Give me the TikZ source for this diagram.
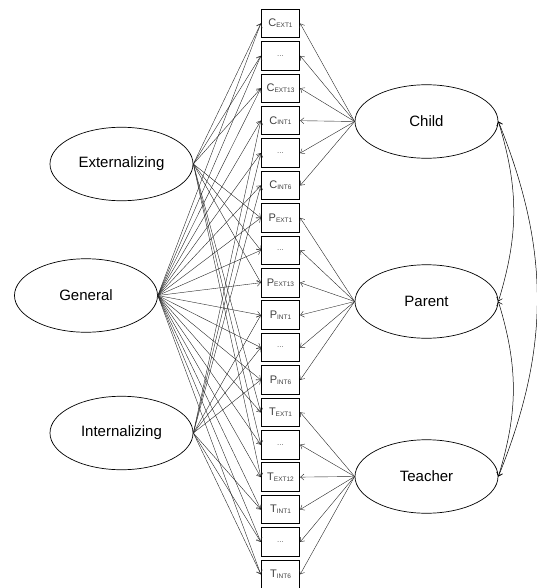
\documentclass[tikz,border=0pt]{standalone}
\usepackage{fontspec}
\setmainfont{Liberation Sans}
\usetikzlibrary{shapes.geometric, arrows.meta, positioning}

\newcommand{\ind}[2]{#1\raisebox{-0.8pt}{\fontsize{6.5}{7}\selectfont #2}}
\newcommand{\etc}{{\fontsize{8}{8}\selectfont\color{black!60}...}}

\begin{document}
\begin{tikzpicture}[
    x=1pt, y=1pt,
    node distance=3pt,
    factor/.style={ellipse, draw, line width=0.7pt, minimum width=143pt, minimum height=73.5pt, font=\fontsize{15}{18}\selectfont},
    item/.style={rectangle, draw, line width=0.9pt, minimum width=38.5pt, minimum height=28.5pt, inner sep=0pt, text=black!75, font=\fontsize{11}{12}\selectfont},
    arrow/.style={-{Straight Barb[length=3.5pt, width=6pt]}, line width=0.4pt, black!85},
    cov/.style={{Straight Barb[length=3.5pt, width=6pt]}-{Straight Barb[length=3.5pt, width=6pt]}, line width=0.5pt}
]
\useasboundingbox (0,0) rectangle (537,-588);

% indicators
\node[item] at (280.5,-23.5) (cext1) {\ind{C}{EXT1}};
\node[item, below=of cext1] (cextd) {\etc};
\node[item, below=of cextd] (cext13) {\ind{C}{EXT13}};
\node[item, below=of cext13] (cint1) {\ind{C}{INT1}};
\node[item, below=of cint1] (cintd) {\etc};
\node[item, below=of cintd] (cint6) {\ind{C}{INT6}};
\node[item, below=of cint6] (pext1) {\ind{P}{EXT1}};
\node[item, below=of pext1] (pextd) {\etc};
\node[item, below=of pextd] (pext13) {\ind{P}{EXT13}};
\node[item, below=of pext13] (pint1) {\ind{P}{INT1}};
\node[item, below=of pint1] (pintd) {\etc};
\node[item, below=of pintd] (pint6) {\ind{P}{INT6}};
\node[item, below=of pint6] (text1) {\ind{T}{EXT1}};
\node[item, below=of text1] (textd) {\etc};
\node[item, below=of textd] (text12) {\ind{T}{EXT12}};
\node[item, below=of text12] (tint1) {\ind{T}{INT1}};
\node[item, below=of tint1] (tintd) {\etc};
\node[item, below=of tintd] (tint6) {\ind{T}{INT6}};

% factors
\node[factor] at (121.5,-164) (ext) {Externalizing};
\node[factor] at (86,-295.5) (gen) {General};
\node[factor] at (121.5,-433) (int) {Internalizing};
\node[factor] at (426.5,-121.5) (child) {Child};
\node[factor] at (426.5,-301.5) (parent) {Parent};
\node[factor] at (426.5,-476.5) (teacher) {Teacher};

% general factor
\draw[arrow] (gen.east) -- (cext1.west);
\draw[arrow] (gen.east) -- (cextd.west);
\draw[arrow] (gen.east) -- (cext13.west);
\draw[arrow] (gen.east) -- (cint1.west);
\draw[arrow] (gen.east) -- (cintd.west);
\draw[arrow] (gen.east) -- (cint6.west);
\draw[arrow] (gen.east) -- (pext1.west);
\draw[arrow] (gen.east) -- (pextd.west);
\draw[arrow] (gen.east) -- (pext13.west);
\draw[arrow] (gen.east) -- (pint1.west);
\draw[arrow] (gen.east) -- (pintd.west);
\draw[arrow] (gen.east) -- (pint6.west);
\draw[arrow] (gen.east) -- (text1.west);
\draw[arrow] (gen.east) -- (textd.west);
\draw[arrow] (gen.east) -- (text12.west);
\draw[arrow] (gen.east) -- (tint1.west);
\draw[arrow] (gen.east) -- (tintd.west);
\draw[arrow] (gen.east) -- (tint6.west);

% externalizing
\draw[arrow] (ext.east) -- (cext1.west);
\draw[arrow] (ext.east) -- (cextd.west);
\draw[arrow] (ext.east) -- (cext13.west);
\draw[arrow] (ext.east) -- (pext1.west);
\draw[arrow] (ext.east) -- (pextd.west);
\draw[arrow] (ext.east) -- (pext13.west);
\draw[arrow] (ext.east) -- (text1.west);
\draw[arrow] (ext.east) -- (textd.west);
\draw[arrow] (ext.east) -- (text12.west);

% internalizing
\draw[arrow] (int.east) -- (cint1.west);
\draw[arrow] (int.east) -- (cintd.west);
\draw[arrow] (int.east) -- (cint6.west);
\draw[arrow] (int.east) -- (pint1.west);
\draw[arrow] (int.east) -- (pintd.west);
\draw[arrow] (int.east) -- (pint6.west);
\draw[arrow] (int.east) -- (tint1.west);
\draw[arrow] (int.east) -- (tintd.west);
\draw[arrow] (int.east) -- (tint6.west);

% informants
\draw[arrow] (child.west) -- (cext1.east);
\draw[arrow] (child.west) -- (cextd.east);
\draw[arrow] (child.west) -- (cext13.east);
\draw[arrow] (child.west) -- (cint1.east);
\draw[arrow] (child.west) -- (cintd.east);
\draw[arrow] (child.west) -- (cint6.east);
\draw[arrow] (parent.west) -- (pext1.east);
\draw[arrow] (parent.west) -- (pextd.east);
\draw[arrow] (parent.west) -- (pext13.east);
\draw[arrow] (parent.west) -- (pint1.east);
\draw[arrow] (parent.west) -- (pintd.east);
\draw[arrow] (parent.west) -- (pint6.east);
\draw[arrow] (teacher.west) -- (text1.east);
\draw[arrow] (teacher.west) -- (textd.east);
\draw[arrow] (teacher.west) -- (text12.east);
\draw[arrow] (teacher.west) -- (tint1.east);
\draw[arrow] (teacher.west) -- (tintd.east);
\draw[arrow] (teacher.west) -- (tint6.east);

% correlations
\draw[cov] (child.east) to[bend left=17] (parent.east);
\draw[cov] (parent.east) to[bend left=17] (teacher.east);
\draw[cov] (child.east) to[bend left=22] (teacher.east);

\end{tikzpicture}
\end{document}
